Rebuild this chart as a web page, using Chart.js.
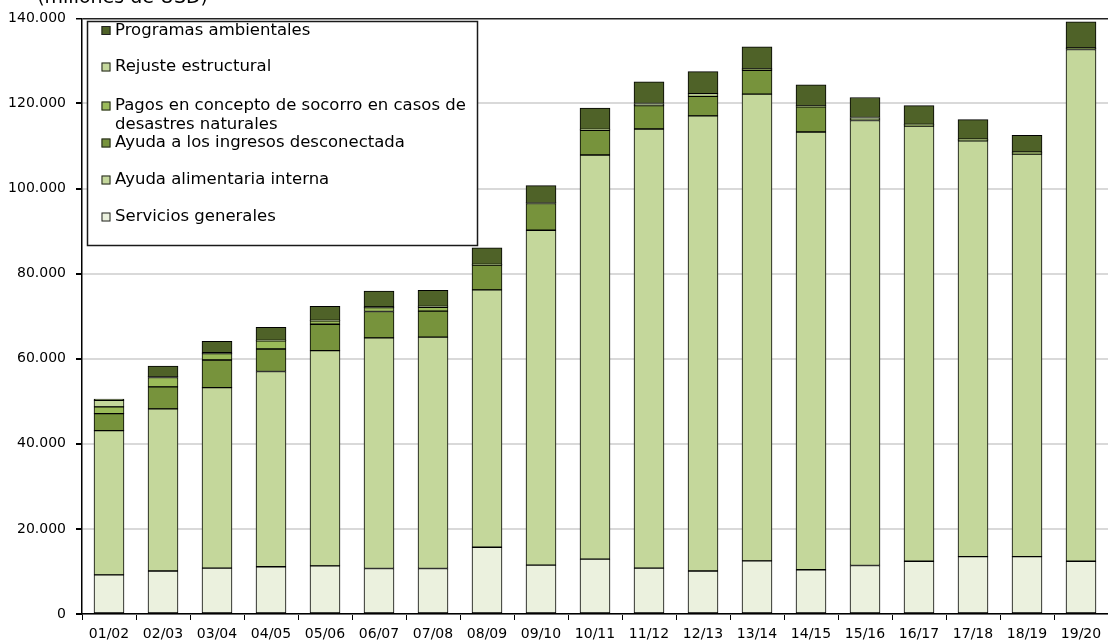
<!DOCTYPE html>
<html>
<head>
<meta charset="utf-8">
<script src="https://cdn.jsdelivr.net/npm/chart.js@4/dist/chart.umd.min.js"></script>
<style>
  html, body { margin: 0; padding: 0; background: #ffffff; }
  #wrap { width: 1108px; height: 643px; position: relative; }
</style>
</head>
<body>
<div id="wrap"><canvas id="c" width="1108" height="643"></canvas></div>
<script>
// ---- Data (millones de USD) ----
const categories = ["01/02","02/03","03/04","04/05","05/06","06/07","07/08","08/09","09/10","10/11","11/12","12/13","13/14","14/15","15/16","16/17","17/18","18/19","19/20"];

const serviciosGenerales = [9200,10100,10800,11100,11300,10700,10700,15700,11500,12900,10800,10100,12500,10400,11400,12400,13500,13500,12400];
const ayudaAlimentaria   = [33900,38100,42400,45900,50600,54200,54400,60500,78700,95000,103200,107000,109700,102900,104600,102300,97700,94600,120300];
const ayudaIngresos      = [4000,5200,6500,5300,6200,6200,6100,5800,6300,5800,5500,4600,5600,5900,300,200,200,200,200];
const pagosDesastres     = [1600,2200,1500,1900,800,900,900,100,100,100,200,300,200,100,100,100,100,200,100];
const reajusteEstructural= [1500,200,200,100,100,200,200,100,100,100,300,300,200,200,300,100,100,100,100];
const programasAmbient   = [300,2500,2700,3100,3300,3700,3800,3900,4000,5000,5100,5200,5100,4900,4700,4400,4600,3900,6100];

const yTicks = [0,20000,40000,60000,80000,100000,120000,140000];

const seriesLabels = [
  "Servicios generales",
  "Ayuda alimentaria interna",
  "Ayuda a los ingresos desconectada",
  "Pagos en concepto de socorro en casos de desastres naturales",
  "Rejuste estructural",
  "Programas ambientales"
];
const seriesColors = ["#EBF1DE","#C4D79B","#77933C","#9BBB59","#C4D79B","#4F6228"];
const seriesData = [serviciosGenerales, ayudaAlimentaria, ayudaIngresos, pagosDesastres, reajusteEstructural, programasAmbient];

// legend text lines (wrapped like the reference)
const legendLines = {
  "Pagos en concepto de socorro en casos de desastres naturales": ["Pagos en concepto de socorro en casos de", "desastres naturales"]
};

const FONT = "'DejaVu Sans', Verdana, sans-serif";

function fmt(v) {
  return String(v).replace(/\B(?=(\d{3})+(?!\d))/g, ".");
}

const boxLegend = {
  id: 'boxLegend',
  afterDraw(chart) {
    const ctx = chart.ctx;
    const x0 = 87, y0 = 21, x1 = 478, y1 = 246;
    ctx.save();
    ctx.fillStyle = '#ffffff';
    ctx.fillRect(x0, y0, x1 - x0, y1 - y0);
    ctx.strokeStyle = '#1a1a1a';
    ctx.lineWidth = 1.5;
    ctx.strokeRect(x0 + 0.5, y0 + 0.5, x1 - x0 - 1, y1 - y0 - 1);
    const rows = [30.5, 67, 106, 143, 180, 217];
    const ds = chart.data.datasets.slice().reverse();
    ctx.font = "16.5px " + FONT;
    ctx.textBaseline = 'middle';
    ctx.textAlign = 'left';
    ds.forEach((d, i) => {
      const y = rows[i];
      ctx.fillStyle = d.backgroundColor;
      ctx.fillRect(101.5, y - 4.5, 9, 9);
      ctx.strokeStyle = '#222';
      ctx.lineWidth = 1;
      ctx.strokeRect(102, y - 4, 8, 8);
      ctx.fillStyle = '#000';
      const lines = legendLines[d.label] || [d.label];
      lines.forEach((t, k) => ctx.fillText(t, 115, y + k * 19));
    });
    // partially visible heading at the top
    ctx.font = "19px " + FONT;
    ctx.textAlign = 'right';
    ctx.textBaseline = 'alphabetic';
    ctx.fillStyle = '#000';
    ctx.fillText("(millones de USD)", 208, 3);
    ctx.restore();
  }
};

new Chart(document.getElementById('c'), {
  type: 'bar',
  data: {
    labels: categories,
    datasets: seriesData.map((arr, i) => ({
      label: seriesLabels[i],
      data: arr,
      backgroundColor: seriesColors[i],
      borderColor: '#000000',
      borderWidth: 1,
      borderSkipped: false,
      barThickness: 30
    }))
  },
  options: {
    responsive: false,
    animation: false,
    devicePixelRatio: 1,
    layout: { padding: { top: 14, right: 0, left: 0, bottom: 0 } },
    plugins: { legend: { display: false }, tooltip: { enabled: false }, title: { display: false } },
    scales: {
      x: {
        stacked: true,
        offset: true,
        grid: { offset: true, drawOnChartArea: false, drawTicks: true, tickLength: 6, color: '#000', tickColor: '#000', lineWidth: 1 },
        border: { color: '#000', width: 1.5 },
        ticks: { color: '#000', font: { family: FONT, size: 14 }, padding: 6, maxRotation: 0, autoSkip: false },
        afterFit(s) { s.height = 29; }
      },
      y: {
        stacked: true,
        min: 0,
        max: 140000,
        afterBuildTicks(s) { s.ticks = yTicks.map(v => ({ value: v })); },
        grid: {
          color: c => (c.tick && c.tick.value === 140000) ? '#222222' : '#D9D9D9',
          lineWidth: c => (c.tick && c.tick.value === 140000) ? 1.5 : 2,
          tickColor: '#000',
          tickLength: 6,
          drawTicks: true
        },
        border: { color: '#000', width: 1.5 },
        ticks: { color: '#000', font: { family: FONT, size: 14 }, padding: 10, callback: v => fmt(v) },
        afterFit(s) { s.width = 82; }
      }
    }
  },
  plugins: [boxLegend]
});
</script>
</body>
</html>
